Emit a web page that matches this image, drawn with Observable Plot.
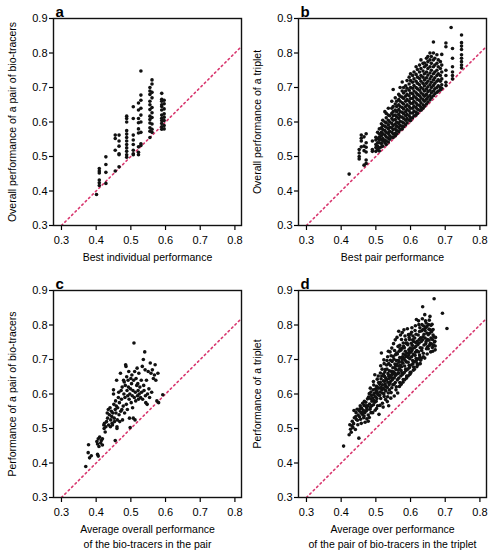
<!DOCTYPE html>
<html>
<head>
<meta charset="utf-8">
<script src="https://cdn.jsdelivr.net/npm/d3@7"></script>
<script src="https://cdn.jsdelivr.net/npm/@observablehq/plot@0.6"></script>
<style>
  html, body { margin: 0; padding: 0; background: #fff; }
  #wrap { position: relative; width: 495px; height: 550px; }
  #wrap > svg { position: absolute; }
</style>
</head>
<body>
<div id="wrap"></div>
<script>
// ---- tick labels and reference line ----
const xTicks = [0.3, 0.4, 0.5, 0.6, 0.7, 0.8];
const yTicks = [0.3, 0.4, 0.5, 0.6, 0.7, 0.8, 0.9];
const diagonal = [0.3, 0.82];

// ---- panel a: best individual performance (x) vs pair performance (y), by column ----
const pairBestCols = [
  [0.401, [0.390]],
  [0.409, [0.465, 0.458, 0.452, 0.432, 0.424, 0.416]],
  [0.428, [0.499, 0.477, 0.454, 0.422]],
  [0.455, [0.562, 0.552, 0.518, 0.458]],
  [0.466, [0.562, 0.545, 0.530, 0.508, 0.505, 0.470]],
  [0.488, [0.617, 0.610, 0.600, 0.575, 0.565, 0.555, 0.545, 0.535, 0.525, 0.515, 0.505, 0.498]],
  [0.507, [0.644, 0.610, 0.562, 0.548, 0.535, 0.518, 0.508, 0.505]],
  [0.522, [0.655, 0.635, 0.610, 0.598, 0.580, 0.568, 0.528, 0.512, 0.505]],
  [0.529, [0.748, 0.678, 0.663, 0.640, 0.620, 0.600, 0.570, 0.537, 0.532]],
  [0.555, [0.700, 0.690, 0.680, 0.660, 0.650, 0.636, 0.617, 0.607, 0.597, 0.583, 0.573, 0.555]],
  [0.561, [0.722, 0.710, 0.686, 0.670, 0.642, 0.627, 0.613, 0.594, 0.579, 0.570]],
  [0.589, [0.683, 0.666, 0.660, 0.650, 0.645, 0.635, 0.620, 0.611, 0.604, 0.596, 0.586, 0.579]],
  [0.596, [0.663, 0.653, 0.638, 0.624, 0.614, 0.604, 0.590, 0.580]]
];

// ---- panel c: average performance of the pair (x) vs pair performance (y) ----
const pairAvgPts = [
  [0.370,0.390],[0.378,0.453],[0.377,0.430],[0.381,0.415],[0.386,0.421],[0.402,0.462],[0.404,0.455],
  [0.406,0.470],[0.408,0.448],[0.404,0.425],[0.406,0.420],[0.410,0.475],[0.413,0.458],[0.415,0.465],
  [0.418,0.470],[0.418,0.452],[0.422,0.510],[0.423,0.500],[0.424,0.515],[0.426,0.490],[0.428,0.505],
  [0.430,0.520],[0.432,0.545],[0.433,0.530],[0.435,0.555],[0.436,0.510],[0.438,0.540],[0.440,0.560],
  [0.441,0.505],[0.442,0.525],[0.444,0.550],[0.445,0.535],[0.446,0.515],[0.447,0.510],[0.448,0.545],
  [0.450,0.600],[0.450,0.612],[0.451,0.570],[0.452,0.530],[0.453,0.520],[0.455,0.465],[0.455,0.555],
  [0.456,0.580],[0.457,0.545],[0.458,0.565],[0.459,0.640],[0.460,0.505],[0.460,0.500],[0.461,0.525],
  [0.462,0.560],[0.464,0.590],[0.465,0.605],[0.466,0.540],[0.467,0.575],[0.468,0.520],[0.470,0.660],
  [0.471,0.550],[0.472,0.610],[0.473,0.585],[0.474,0.555],[0.475,0.620],[0.476,0.525],[0.478,0.565],
  [0.479,0.640],[0.480,0.600],[0.481,0.635],[0.482,0.545],[0.483,0.590],[0.484,0.625],[0.485,0.685],
  [0.486,0.680],[0.487,0.570],[0.488,0.650],[0.489,0.610],[0.490,0.555],[0.491,0.595],[0.492,0.640],
  [0.493,0.620],[0.494,0.665],[0.495,0.585],[0.496,0.530],[0.497,0.600],[0.498,0.503],[0.499,0.615],
  [0.500,0.645],[0.501,0.575],[0.502,0.630],[0.503,0.655],[0.504,0.595],[0.505,0.560],[0.506,0.610],
  [0.507,0.530],[0.508,0.640],[0.509,0.748],[0.510,0.590],[0.511,0.665],[0.512,0.525],[0.513,0.605],
  [0.514,0.580],[0.515,0.645],[0.517,0.625],[0.518,0.675],[0.519,0.595],[0.520,0.630],[0.521,0.610],
  [0.522,0.585],[0.523,0.660],[0.524,0.600],[0.526,0.620],[0.528,0.590],[0.530,0.640],[0.531,0.605],
  [0.533,0.680],[0.534,0.585],[0.536,0.700],[0.537,0.625],[0.538,0.610],[0.540,0.722],[0.541,0.670],
  [0.542,0.595],[0.543,0.575],[0.545,0.640],[0.547,0.570],[0.548,0.600],[0.550,0.665],[0.552,0.615],
  [0.554,0.590],[0.556,0.690],[0.558,0.660],[0.560,0.605],[0.562,0.670],[0.565,0.645],[0.568,0.655],
  [0.570,0.685],[0.572,0.640],[0.575,0.580],[0.578,0.660],[0.580,0.575],[0.592,0.598]
];

// ---- panel b: best pair performance (x) vs triplet performance (y), by column ----
const tripletBestCols = [
  [0.423, [0.449]],
  [0.452, [0.520, 0.510, 0.500, 0.493]],
  [0.458, [0.562, 0.553, 0.545, 0.528]],
  [0.466, [0.557, 0.530, 0.517, 0.475]],
  [0.472, [0.566, 0.540, 0.527, 0.513, 0.490, 0.480]],
  [0.490, [0.545, 0.520, 0.515]],
  [0.500, [0.556, 0.548, 0.535, 0.526, 0.515]],
  [0.505, [0.570, 0.552, 0.540, 0.530, 0.520]],
  [0.510, [0.580, 0.565, 0.556, 0.548, 0.540, 0.525, 0.516]],
  [0.516, [0.595, 0.583, 0.570, 0.560, 0.550, 0.538, 0.528]],
  [0.520, [0.605, 0.590, 0.578, 0.566, 0.552, 0.545, 0.530]],
  [0.526, [0.630, 0.600, 0.588, 0.575, 0.562, 0.548, 0.540]],
  [0.530, [0.625, 0.612, 0.598, 0.585, 0.570, 0.557, 0.545, 0.535]],
  [0.536, [0.640, 0.620, 0.605, 0.592, 0.580, 0.567, 0.553, 0.542]],
  [0.540, [0.618, 0.600, 0.585, 0.573, 0.560, 0.550]],
  [0.546, [0.660, 0.640, 0.625, 0.610, 0.596, 0.583, 0.570, 0.556]],
  [0.550, [0.694, 0.645, 0.630, 0.618, 0.605, 0.590, 0.578, 0.565, 0.555]],
  [0.556, [0.670, 0.652, 0.635, 0.620, 0.607, 0.594, 0.580, 0.567, 0.560]],
  [0.560, [0.660, 0.645, 0.630, 0.615, 0.600, 0.588, 0.575, 0.565]],
  [0.566, [0.680, 0.665, 0.650, 0.636, 0.622, 0.610, 0.596, 0.584, 0.572]],
  [0.570, [0.700, 0.675, 0.660, 0.645, 0.630, 0.616, 0.602, 0.590, 0.578]],
  [0.576, [0.716, 0.690, 0.672, 0.656, 0.642, 0.628, 0.614, 0.600, 0.588, 0.580]],
  [0.580, [0.700, 0.684, 0.668, 0.652, 0.638, 0.624, 0.610, 0.597, 0.586]],
  [0.586, [0.705, 0.690, 0.675, 0.660, 0.645, 0.630, 0.618, 0.605, 0.592]],
  [0.590, [0.720, 0.698, 0.680, 0.665, 0.650, 0.636, 0.622, 0.610, 0.598]],
  [0.596, [0.730, 0.710, 0.692, 0.676, 0.660, 0.645, 0.632, 0.618, 0.605]],
  [0.600, [0.740, 0.720, 0.700, 0.684, 0.668, 0.654, 0.640, 0.626, 0.612, 0.604]],
  [0.606, [0.735, 0.715, 0.698, 0.682, 0.668, 0.654, 0.640, 0.626, 0.612]],
  [0.610, [0.745, 0.725, 0.706, 0.690, 0.675, 0.660, 0.646, 0.632, 0.618]],
  [0.616, [0.760, 0.738, 0.718, 0.700, 0.685, 0.670, 0.655, 0.642, 0.628, 0.620]],
  [0.620, [0.752, 0.730, 0.712, 0.696, 0.680, 0.665, 0.650, 0.637, 0.625]],
  [0.626, [0.765, 0.745, 0.726, 0.708, 0.692, 0.676, 0.662, 0.648, 0.634]],
  [0.630, [0.780, 0.755, 0.735, 0.718, 0.700, 0.685, 0.670, 0.656, 0.642, 0.634]],
  [0.636, [0.770, 0.748, 0.730, 0.712, 0.696, 0.680, 0.665, 0.650, 0.640]],
  [0.640, [0.771, 0.760, 0.740, 0.722, 0.705, 0.690, 0.675, 0.660, 0.646]],
  [0.646, [0.785, 0.765, 0.745, 0.728, 0.712, 0.696, 0.680, 0.666, 0.652]],
  [0.650, [0.790, 0.775, 0.755, 0.736, 0.718, 0.702, 0.688, 0.672, 0.658]],
  [0.656, [0.800, 0.780, 0.760, 0.742, 0.725, 0.708, 0.692, 0.677, 0.664]],
  [0.660, [0.790, 0.770, 0.750, 0.732, 0.715, 0.700, 0.685, 0.670]],
  [0.666, [0.832, 0.800, 0.780, 0.760, 0.740, 0.722, 0.706, 0.690, 0.676]],
  [0.670, [0.785, 0.765, 0.745, 0.728, 0.712, 0.696, 0.682]],
  [0.676, [0.795, 0.770, 0.750, 0.735, 0.718, 0.700, 0.686]],
  [0.680, [0.780, 0.760, 0.740, 0.722, 0.705, 0.690]],
  [0.686, [0.775, 0.755, 0.735, 0.718, 0.700, 0.693]],
  [0.690, [0.796, 0.765, 0.745, 0.725, 0.708, 0.698]],
  [0.702, [0.829, 0.818, 0.750, 0.735, 0.715, 0.706]],
  [0.717, [0.874]],
  [0.721, [0.813, 0.785, 0.760, 0.745, 0.735, 0.725]],
  [0.747, [0.852, 0.830, 0.820, 0.810, 0.795, 0.785, 0.775, 0.765, 0.757]]
];

// ---- panel d: average over the pairs (x) vs triplet performance (y) ----
const tripletAvgPts = [
  [0.407,0.449],
  [0.423,0.482],[0.427,0.498],[0.425,0.511],[0.429,0.489],
  [0.432,0.521],[0.434,0.503],[0.436,0.514],[0.438,0.531],[0.437,0.552],[0.431,0.508],
  [0.441,0.497],[0.443,0.546],[0.444,0.526],[0.446,0.556],[0.448,0.511],[0.449,0.539],[0.447,0.524],[0.442,0.535],
  [0.451,0.472],[0.452,0.551],[0.453,0.534],[0.455,0.566],[0.456,0.527],[0.457,0.546],[0.459,0.559],[0.458,0.515],[0.454,0.557],
  [0.461,0.541],[0.462,0.573],[0.464,0.553],[0.465,0.531],[0.466,0.567],[0.467,0.579],[0.468,0.546],[0.469,0.518],[0.463,0.548],[0.466,0.536],
  [0.471,0.576],[0.472,0.551],[0.473,0.561],[0.474,0.528],[0.476,0.586],[0.477,0.566],[0.478,0.539],[0.479,0.591],[0.475,0.554],[0.478,0.521],[0.472,0.566],
  [0.481,0.601],[0.482,0.571],[0.483,0.556],[0.484,0.617],[0.485,0.586],[0.486,0.546],[0.487,0.596],[0.488,0.566],[0.489,0.579],[0.481,0.532],[0.486,0.606],[0.484,0.561],
  [0.491,0.588],[0.492,0.612],[0.493,0.569],[0.494,0.626],[0.495,0.581],[0.496,0.602],[0.497,0.656],[0.498,0.553],[0.499,0.614],[0.491,0.546],[0.494,0.598],[0.497,0.576],[0.499,0.592],[0.493,0.636],
  [0.501,0.606],[0.502,0.622],[0.503,0.587],[0.504,0.643],[0.505,0.566],[0.506,0.618],[0.507,0.597],[0.508,0.633],[0.509,0.541],[0.501,0.579],[0.503,0.609],[0.505,0.601],[0.507,0.652],[0.509,0.617],[0.502,0.558],
  [0.511,0.628],[0.512,0.606],[0.513,0.661],[0.514,0.587],[0.515,0.644],[0.516,0.719],[0.517,0.612],[0.518,0.672],[0.519,0.573],[0.511,0.596],[0.513,0.634],[0.515,0.619],[0.517,0.652],[0.519,0.627],[0.512,0.567],[0.518,0.603],[0.514,0.682],
  [0.521,0.617],[0.522,0.658],[0.523,0.601],[0.524,0.688],[0.525,0.637],[0.526,0.612],[0.527,0.671],[0.528,0.584],[0.529,0.646],[0.521,0.562],[0.523,0.699],[0.525,0.651],[0.527,0.629],[0.529,0.609],[0.522,0.638],[0.526,0.664],[0.528,0.622],[0.524,0.593],
  [0.531,0.641],[0.532,0.672],[0.533,0.619],[0.534,0.708],[0.535,0.659],[0.536,0.603],[0.537,0.688],[0.538,0.626],[0.539,0.667],[0.531,0.684],[0.533,0.578],[0.535,0.634],[0.537,0.652],[0.539,0.612],[0.532,0.697],[0.536,0.724],[0.538,0.645],[0.534,0.592],[0.537,0.566],
  [0.541,0.654],[0.542,0.683],[0.543,0.637],[0.544,0.711],[0.545,0.666],[0.546,0.618],[0.547,0.694],[0.548,0.642],[0.549,0.676],[0.541,0.722],[0.543,0.588],[0.545,0.648],[0.547,0.662],[0.549,0.627],[0.542,0.698],[0.546,0.733],[0.548,0.657],[0.544,0.604],[0.540,0.631],
  [0.551,0.664],[0.552,0.701],[0.553,0.647],[0.554,0.726],[0.555,0.687],[0.556,0.633],[0.557,0.714],[0.558,0.671],[0.559,0.621],[0.551,0.746],[0.553,0.594],[0.555,0.676],[0.557,0.654],[0.559,0.697],[0.552,0.628],[0.556,0.757],[0.558,0.612],[0.554,0.661],[0.550,0.709],[0.557,0.682],
  [0.561,0.687],[0.562,0.716],[0.563,0.659],[0.564,0.738],[0.565,0.698],[0.566,0.646],[0.567,0.724],[0.568,0.673],[0.569,0.633],[0.561,0.764],[0.563,0.603],[0.565,0.681],[0.567,0.661],[0.569,0.706],[0.562,0.641],[0.566,0.782],[0.568,0.622],[0.564,0.669],[0.560,0.719],[0.567,0.692],[0.569,0.741],
  [0.571,0.683],[0.572,0.727],[0.573,0.668],[0.574,0.758],[0.575,0.702],[0.576,0.661],[0.577,0.733],[0.578,0.689],[0.579,0.642],[0.571,0.771],[0.573,0.628],[0.575,0.694],[0.577,0.657],[0.579,0.716],[0.572,0.652],[0.576,0.778],[0.578,0.634],[0.574,0.679],[0.570,0.731],[0.577,0.708],[0.579,0.748],
  [0.581,0.703],[0.582,0.734],[0.583,0.681],[0.584,0.768],[0.585,0.713],[0.586,0.672],[0.587,0.747],[0.588,0.693],[0.589,0.652],[0.581,0.786],[0.583,0.641],[0.585,0.724],[0.587,0.668],[0.589,0.719],[0.582,0.662],[0.586,0.757],[0.588,0.646],[0.584,0.698],[0.580,0.738],[0.587,0.709],
  [0.591,0.708],[0.592,0.743],[0.593,0.692],[0.594,0.772],[0.595,0.728],[0.596,0.683],[0.597,0.758],[0.598,0.702],[0.599,0.663],[0.591,0.789],[0.593,0.652],[0.595,0.714],[0.597,0.677],[0.599,0.733],[0.592,0.672],[0.596,0.764],[0.598,0.657],[0.594,0.706],[0.590,0.748],[0.597,0.721],
  [0.601,0.721],[0.602,0.747],[0.603,0.708],[0.604,0.792],[0.605,0.731],[0.606,0.697],[0.607,0.768],[0.608,0.714],[0.609,0.678],[0.601,0.662],[0.603,0.779],[0.605,0.741],[0.607,0.688],[0.609,0.752],[0.602,0.684],[0.606,0.757],[0.608,0.669],[0.604,0.726],[0.600,0.773],
  [0.611,0.734],[0.612,0.762],[0.613,0.712],[0.614,0.798],[0.615,0.749],[0.616,0.703],[0.617,0.816],[0.618,0.726],[0.619,0.688],[0.611,0.672],[0.613,0.784],[0.615,0.738],[0.617,0.697],[0.619,0.753],[0.612,0.694],[0.616,0.773],[0.618,0.679],[0.614,0.721],
  [0.621,0.743],[0.622,0.771],[0.623,0.722],[0.624,0.801],[0.625,0.758],[0.626,0.713],[0.627,0.792],[0.628,0.734],[0.629,0.698],[0.621,0.684],[0.623,0.812],[0.625,0.748],[0.627,0.707],[0.629,0.763],[0.622,0.702],[0.626,0.781],[0.628,0.688],
  [0.631,0.752],[0.632,0.783],[0.633,0.733],[0.634,0.818],[0.635,0.853],[0.636,0.766],[0.637,0.718],[0.638,0.797],[0.639,0.742],[0.631,0.703],[0.633,0.801],[0.635,0.757],[0.637,0.708],[0.639,0.773],[0.632,0.726],[0.636,0.787],
  [0.641,0.830],[0.642,0.762],[0.643,0.792],[0.644,0.746],[0.645,0.806],[0.646,0.731],[0.647,0.777],[0.648,0.716],[0.649,0.758],[0.641,0.704],[0.643,0.812],[0.645,0.752],[0.647,0.796],[0.649,0.737],[0.642,0.784],
  [0.651,0.772],[0.652,0.801],[0.653,0.756],[0.654,0.814],[0.655,0.741],[0.656,0.825],[0.657,0.786],[0.658,0.722],[0.659,0.762],[0.651,0.731],[0.653,0.788],[0.655,0.776],[0.657,0.747],[0.659,0.799],
  [0.661,0.781],[0.662,0.802],[0.663,0.758],[0.664,0.724],[0.665,0.787],[0.666,0.742],[0.667,0.766],[0.668,0.876],[0.669,0.751],[0.661,0.745],[0.663,0.735],[0.665,0.771],
  [0.670,0.753],[0.671,0.739],[0.672,0.764],[0.671,0.728],[0.692,0.834],[0.705,0.790]
];

// ---- helpers ----
const fromCols = cols => cols.flatMap(([x, ys]) => ys.map(y => ({x, y})));
const fromPairs = pts => pts.map(([x, y]) => ({x, y}));

const FONT = "'Liberation Sans', Arial, Helvetica, sans-serif";

function panel(points, letter, xTitle, yTitle) {
  return Plot.plot({
    width: 245, height: 272,
    marginLeft: 53, marginRight: 4, marginTop: 18, marginBottom: 47,
    style: {fontFamily: FONT, fontSize: "11px", color: "#000", background: "transparent", overflow: "visible"},
    x: {domain: [0.277, 0.819]},
    y: {domain: [0.3, 0.9]},
    marks: [
      Plot.axisX({ticks: xTicks, tickFormat: ".1f", tickSize: 5, tickPadding: 6, label: null, strokeWidth: 1.2, fontSize: 11}),
      Plot.axisY({ticks: yTicks, tickFormat: ".1f", tickSize: 4, tickPadding: 2, label: null, strokeWidth: 1.2, fontSize: 11}),
      Plot.line(diagonal, {x: d => d, y: d => d, stroke: "#d8366e", strokeWidth: 1.6, strokeDasharray: "1.6 3.2", clip: true}),
      Plot.dot(points, {x: "x", y: "y", r: 1.8, fill: "#111", stroke: null}),
      Plot.frame({stroke: "#111", strokeWidth: 1.4}),
      Plot.text([letter], {frameAnchor: "top-left", dx: 2, dy: -2, lineAnchor: "bottom", textAnchor: "start", fontWeight: "bold", fontSize: 15, text: d => d}),
      Plot.text([xTitle], {frameAnchor: "bottom", dy: 25, lineAnchor: "top", textAnchor: "middle", fontSize: 10.5, lineHeight: 1.43, text: d => d}),
      Plot.text([yTitle], {frameAnchor: "left", dx: -40.5, rotate: -90, textAnchor: "middle", lineAnchor: "middle", fontSize: 10.5, text: d => d})
    ]
  });
}

const wrap = document.getElementById("wrap");
const specs = [
  [fromCols(pairBestCols), "a", "Best individual performance", "Overall performance of a pair of bio-tracers", 0, 0],
  [fromCols(tripletBestCols), "b", "Best pair performance", "Overall performance of a triplet", 245, 0],
  [fromPairs(pairAvgPts), "c", "Average overall performance\nof the bio-tracers in the pair", "Performance of a pair of bio-tracers", 0, 272],
  [fromPairs(tripletAvgPts), "d", "Average over performance\nof the pair of bio-tracers in the triplet", "Performance of a triplet", 245, 272]
];
for (const [pts, letter, xt, yt, left, top] of specs) {
  const svg = panel(pts, letter, xt, yt);
  svg.style.left = left + "px";
  svg.style.top = top + "px";
  wrap.appendChild(svg);
}
</script>
</body>
</html>
